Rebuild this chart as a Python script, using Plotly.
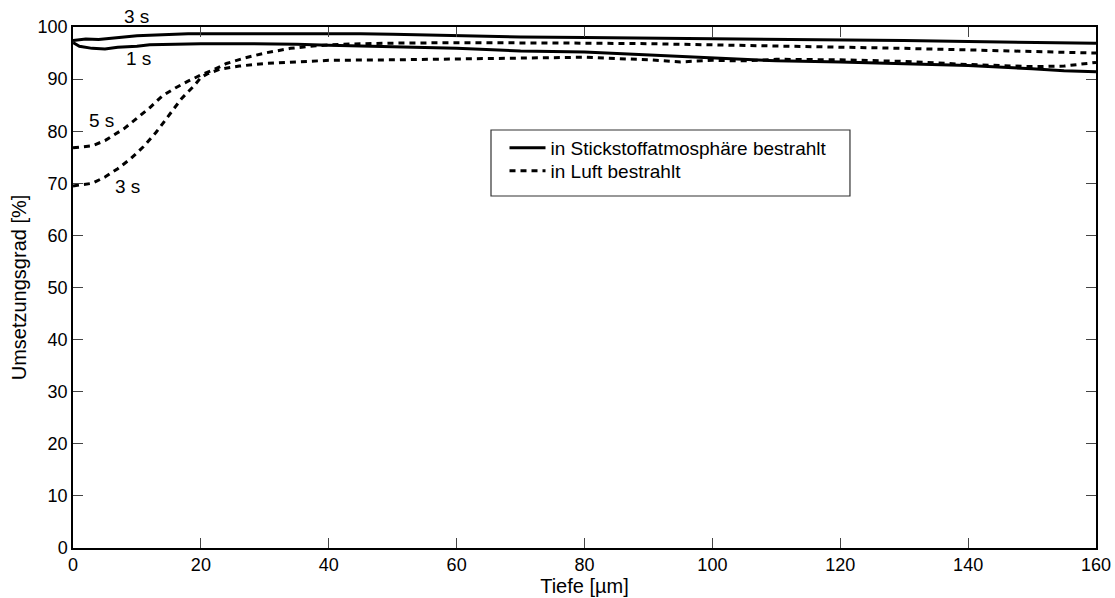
import plotly.graph_objects as go

# Tiefe [µm] / Umsetzungsgrad [%] – Stickstoff (durchgezogen), Luft (gestrichelt)
x_n2_3s = [0, 2, 4, 6, 8, 10, 12, 15, 18, 20, 25, 30, 35, 40, 45, 50, 60, 70, 80,
           90, 100, 110, 120, 130, 140, 150, 160]
y_n2_3s = [97.4, 97.7, 97.6, 97.9, 98.1, 98.3, 98.4, 98.6, 98.7, 98.7, 98.7, 98.8,
           98.8, 98.8, 98.7, 98.6, 98.3, 98.1, 98.0, 97.9, 97.8, 97.7, 97.5, 97.4,
           97.2, 97.1, 96.9]

x_n2_1s = [0, 1, 3, 5, 7, 10, 12, 15, 20, 25, 30, 35, 40, 45, 50, 60, 70, 80, 90,
           100, 110, 120, 130, 140, 150, 155, 160]
y_n2_1s = [97.0, 96.3, 95.9, 95.8, 96.1, 96.3, 96.6, 96.7, 96.8, 96.8, 96.8, 96.7,
           96.5, 96.4, 96.2, 95.9, 95.4, 95.2, 94.6, 94.0, 93.5, 93.3, 92.9, 92.6,
           92.0, 91.6, 91.4]

x_air_5s = [0, 3, 5, 8, 10, 12, 14, 16, 18, 20, 22, 24, 27, 30, 34, 38, 42, 50, 60,
            70, 80, 90, 100, 110, 120, 130, 140, 150, 160]
y_air_5s = [76.8, 77.2, 78.2, 80.5, 82.5, 84.5, 86.8, 88.3, 89.6, 90.8, 91.8, 93.0,
            94.1, 95.0, 95.9, 96.4, 96.7, 96.9, 97.0, 97.0, 96.9, 96.8, 96.6, 96.4,
            96.2, 95.9, 95.6, 95.3, 95.0]

x_air_3s = [0, 3, 5, 7, 9, 11, 13, 15, 17, 19, 20, 21, 23, 26, 30, 35, 40, 50, 60,
            70, 80, 90, 95, 100, 105, 110, 120, 130, 140, 150, 155, 160]
y_air_3s = [69.5, 70.0, 71.2, 72.8, 74.7, 77.0, 79.8, 83.0, 86.3, 88.8, 90.3, 91.0,
            91.9, 92.5, 93.0, 93.3, 93.6, 93.7, 93.9, 94.1, 94.2, 93.7, 93.3, 93.6,
            93.5, 93.8, 93.7, 93.4, 92.8, 92.4, 92.5, 93.2]

curve_labels = ["3 s", "1 s", "5 s", "3 s"]
label_x = [10.0, 10.3, 4.5, 8.6]
label_y = [102.1, 93.9, 82.1, 69.3]

legend_names = ["in Stickstoffatmosphäre bestrahlt", "in Luft bestrahlt"]

x_ticks = [0, 20, 40, 60, 80, 100, 120, 140, 160]
y_ticks = [0, 10, 20, 30, 40, 50, 60, 70, 80, 90, 100]

FONT = "Liberation Sans, Arial, Helvetica, sans-serif"
DASH = "6px,5px"

fig = go.Figure()
fig.add_trace(go.Scatter(x=x_n2_3s, y=y_n2_3s, mode="lines", name=legend_names[0],
                         line=dict(color="black", width=3), showlegend=True,
                         legend="legend"))
fig.add_trace(go.Scatter(x=x_air_5s, y=y_air_5s, mode="lines", name=legend_names[1],
                         line=dict(color="black", width=3, dash=DASH), showlegend=True,
                         legend="legend2"))
fig.add_trace(go.Scatter(x=x_n2_1s, y=y_n2_1s, mode="lines", name=legend_names[0],
                         line=dict(color="black", width=3), showlegend=False))
fig.add_trace(go.Scatter(x=x_air_3s, y=y_air_3s, mode="lines", name=legend_names[1],
                         line=dict(color="black", width=3, dash=DASH), showlegend=False))

# curve labels; y given in axis units, placed via the y domain so the
# label above the frame is not hidden
for txt, lx, ly in zip(curve_labels, label_x, label_y):
    fig.add_annotation(x=lx, xref="x", y=ly / 100.0, yref="y domain", text=txt,
                       showarrow=False, xanchor="center", yanchor="middle",
                       font=dict(family=FONT, size=19, color="black"))

# legend frame
fig.add_shape(type="rect", xref="paper", yref="paper",
              x0=0.4086, x1=0.7595, y0=0.6756, y1=0.8023,
              line=dict(color="#333333", width=1.2), fillcolor="white", layer="below")

axis_common = dict(
    showgrid=False, zeroline=False, showline=True, linecolor="black", linewidth=1.5,
    mirror="ticks", ticks="inside", ticklen=10, tickwidth=1, tickcolor="#444444",
    tickfont=dict(family=FONT, size=18, color="black"), automargin=False,
)

legend_common = dict(xanchor="left", yanchor="top", bgcolor="rgba(0,0,0,0)",
                     borderwidth=0, itemwidth=36,
                     font=dict(family=FONT, size=19, color="black"))

fig.update_layout(
    width=1115, height=598,
    margin=dict(l=73, r=19, t=27, b=50),
    paper_bgcolor="white", plot_bgcolor="white",
    font=dict(family=FONT, size=18, color="black"),
    xaxis=dict(range=[0, 160], tickvals=x_ticks,
               title=dict(text="Tiefe [µm]", font=dict(family=FONT, size=20), standoff=0),
               **axis_common),
    yaxis=dict(range=[0, 100], tickvals=y_ticks,
               title=dict(text="Umsetzungsgrad [%]", font=dict(family=FONT, size=20), standoff=6),
               **axis_common),
    legend=dict(x=0.4218, y=0.8042, **legend_common),
    legend2=dict(x=0.4218, y=0.7601, **legend_common),
)

fig.write_html("out.html")
